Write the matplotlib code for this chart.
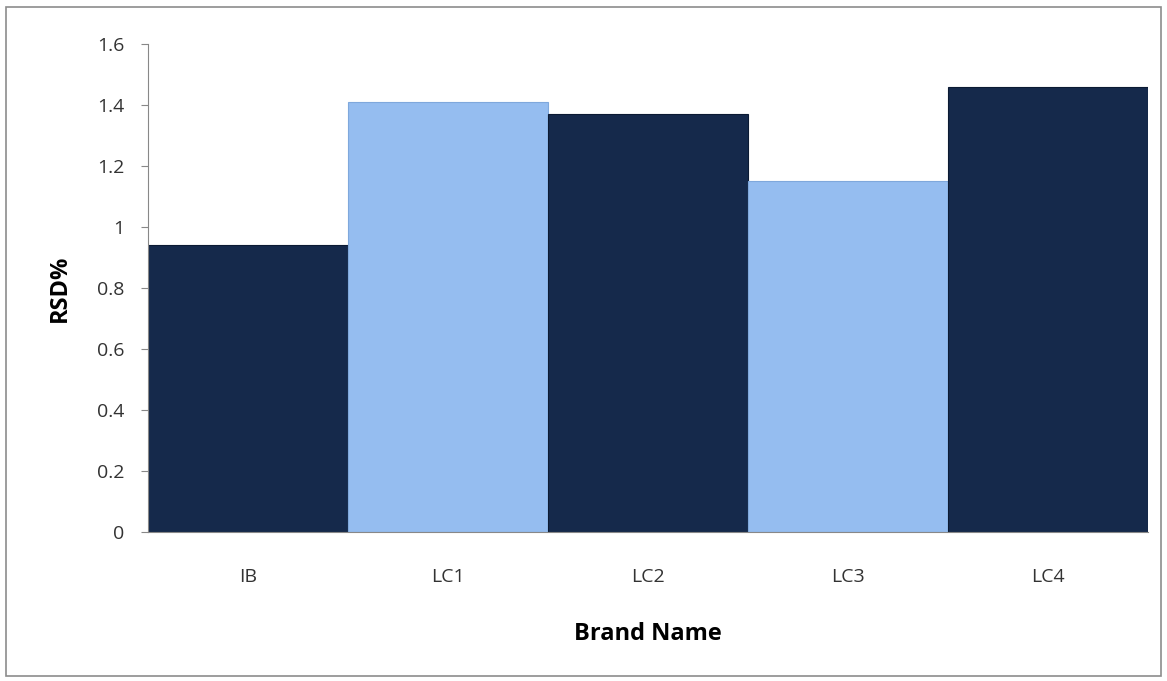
import matplotlib
matplotlib.use("Agg")
import matplotlib.pyplot as plt
from matplotlib.patches import Rectangle

# Data
brands = ["IB", "LC1", "LC2", "LC3", "LC4"]
rsd = [0.94, 1.41, 1.37, 1.15, 1.46]
bar_colors = ["#15294b", "#95bdf0", "#15294b", "#95bdf0", "#15294b"]
edge_colors = ["#0b1a33", "#7fa8dc", "#0b1a33", "#7fa8dc", "#0b1a33"]

plt.rcParams["font.family"] = ["Open Sans", "DejaVu Sans"]

fig = plt.figure(figsize=(11.67, 6.81), dpi=100)
ax = fig.add_axes([0.127, 0.219, 0.857, 0.716])

ax.bar(range(len(brands)), rsd, width=1.0, color=bar_colors,
       edgecolor=edge_colors, linewidth=0.8)

ax.set_xlim(-0.5, len(brands) - 0.5)
ax.set_ylim(0, 1.6)
ax.set_yticks([0, 0.2, 0.4, 0.6, 0.8, 1.0, 1.2, 1.4, 1.6])
ax.set_yticklabels(["0", "0.2", "0.4", "0.6", "0.8", "1", "1.2", "1.4", "1.6"])
ax.set_xticks(range(len(brands)))
ax.set_xticklabels(brands)
ax.tick_params(axis="y", labelsize=14, length=5, color="#888888", pad=12, labelcolor="#333333")
ax.tick_params(axis="x", labelsize=14, length=0, pad=26, labelcolor="#333333")

for side in ["top", "right"]:
    ax.spines[side].set_visible(False)
ax.spines["left"].set_color("#888888")
ax.spines["bottom"].set_color("#888888")

ax.set_ylabel("RSD%", fontsize=17, fontweight="bold", labelpad=18)
ax.set_xlabel("Brand Name", fontsize=17, fontweight="bold", labelpad=26)

# grey outer frame of the chart area
fig.patches.append(Rectangle((0.005, 0.008), 0.99, 0.982, transform=fig.transFigure,
                             fill=False, edgecolor="#8c8c8c", linewidth=1.2))

fig.savefig("out.png", dpi=100)
